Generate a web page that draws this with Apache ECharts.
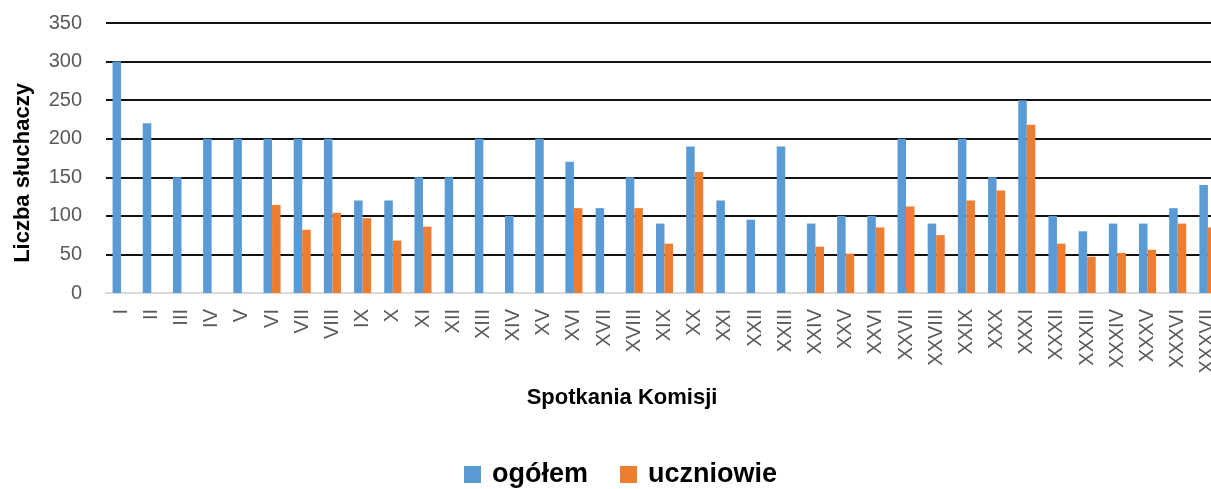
<!DOCTYPE html>
<html>
<head>
<meta charset="utf-8">
<script src="https://cdn.jsdelivr.net/npm/echarts@6/dist/echarts.min.js"></script>
<style>
html,body{margin:0;padding:0;background:#fff;overflow:hidden;width:1211px;height:489px;}
#c{width:1223px;height:489px;}
</style>
</head>
<body>
<div id="c"></div>
<script>
var categories = ['I','II','III','IV','V','VI','VII','VIII','IX','X','XI','XII','XIII','XIV','XV','XVI','XVII','XVIII','XIX','XX','XXI','XXII','XXIII','XXIV','XXV','XXVI','XXVII','XXVIII','XXIX','XXX','XXXI','XXXII','XXXIII','XXXIV','XXXV','XXXVI','XXXVII'];
var ogolem = [300,220,150,200,200,200,200,200,120,120,150,150,200,100,200,170,110,150,90,190,120,95,190,90,100,100,200,90,200,150,250,100,80,90,90,110,140];
var uczniowie = [null,null,null,null,null,114,82,104,97,68,86,null,null,null,null,110,null,110,64,157,null,null,null,60,51,85,112,75,120,133,218,64,47,52,56,90,85];
var yTicks = {min:0, max:350, step:50};
var seriesNames = ['ogółem','uczniowie'];
var yName = 'Liczba słuchaczy';
var xName = 'Spotkania Komisji';

var chart = echarts.init(document.getElementById('c'), null, {renderer:'canvas'});
var font = 'Liberation Sans, Arial, sans-serif';
chart.setOption({
  animation:false,
  color:['#5B9BD5','#ED7D31'],
  grid:{left:106, top:23, right:0, bottom:196, containLabel:false},
  legend:{
    data:seriesNames, left:459, top:456, itemWidth:17, itemHeight:17, itemGap:32,
    icon:'rect',
    textStyle:{fontFamily:font, fontWeight:'bold', fontSize:27, color:'#000', padding:[0,0,0,6]}
  },
  xAxis:{
    type:'category', data:categories,
    axisLine:{show:true, lineStyle:{color:'#d9d9d9', width:2}},
    axisTick:{show:false},
    axisLabel:{interval:0, rotate:90, margin:16, fontFamily:font, fontSize:20, color:'#595959'}
  },
  yAxis:{
    type:'value', min:yTicks.min, max:yTicks.max, interval:yTicks.step,
    axisLine:{show:false}, axisTick:{show:false},
    axisLabel:{margin:24, fontFamily:font, fontSize:20, color:'#595959'},
    splitLine:{show:true, showMinLine:false, lineStyle:{color:'#111', width:2}}
  },
  graphic:[
    {type:'text', x:23, y:173, rotation:Math.PI/2,
     style:{text:yName, fontFamily:font, fontWeight:'bold', fontSize:22, fill:'#000', align:'center', verticalAlign:'middle'}},
    {type:'text', x:622, y:398,
     style:{text:xName, fontFamily:font, fontWeight:'bold', fontSize:22, fill:'#000', align:'center', verticalAlign:'middle'}}
  ],
  series:[
    {name:seriesNames[0], type:'bar', data:ogolem, barGap:'0%', barCategoryGap:'43.5%'},
    {name:seriesNames[1], type:'bar', data:uczniowie, barGap:'0%', barCategoryGap:'43.5%'}
  ]
});
</script>
</body>
</html>
